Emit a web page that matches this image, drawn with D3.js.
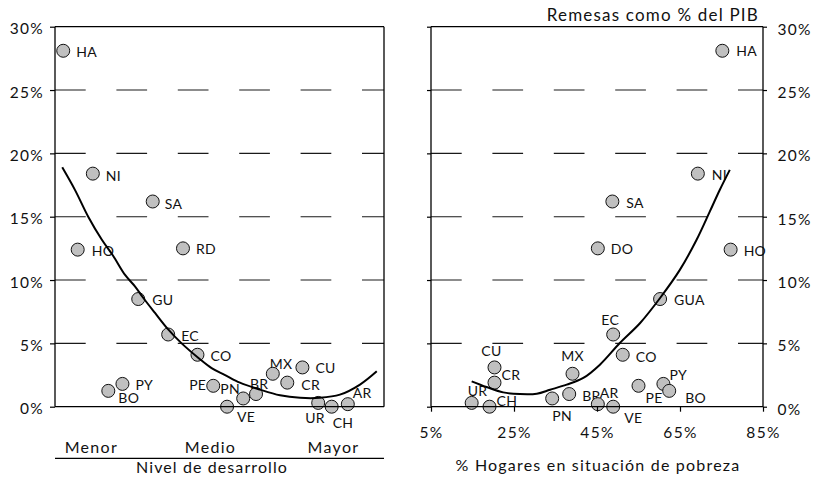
<!DOCTYPE html>
<html>
<head>
<meta charset="utf-8">
<script src="https://cdn.jsdelivr.net/npm/d3@7"></script>
<style>
  html, body { margin: 0; padding: 0; background: #fff; }
  svg { display: block; }
  text { font-family: Lato, "Open Sans", sans-serif; fill: #111; }
</style>
</head>
<body>
<svg id="chart" width="816" height="482"></svg>
<script>
// Remittances (% of GDP) by country, compared against development level and household poverty
const labelsLeft  = ["HA","NI","SA","HO","RD","GU","EC","CO","PY","BO","PE","VE","PN","BR","MX","CR","CU","UR","CH","AR"];
const labelsRight = ["HA","NI","SA","HO","DO","GUA","EC","CO","PY","BO","PE","VE","PN","BR","MX","CR","CU","UR","CH","AR"];
const remittances = [28.1, 18.4, 16.2, 12.4, 12.5, 8.5, 5.7, 4.1, 1.8, 1.25, 1.65, 0.0, 0.65, 1.0, 2.6, 1.9, 3.1, 0.3, 0.0, 0.2];
const development = [2.5, 11.5, 29.7, 6.9, 38.9, 25.3, 34.4, 43.3, 20.5, 16.2, 48.1, 52.3, 57.2, 61.1, 66.2, 70.6, 75.2, 80.0, 84.1, 89.0];
const poverty     = [75.2, 69.3, 48.7, 77.2, 45.2, 60.2, 48.9, 51.2, 61.0, 62.4, 55.0, 48.9, 34.2, 38.3, 39.1, 20.3, 20.3, 14.8, 19.1, 45.2];

// Trend curves
const trendLeftX  = [2.2, 6.1, 10.1, 14.2, 17.7, 21.3, 24.3, 26.8, 30.4, 34.4, 38.5, 43.6, 47.6, 51.7, 56.2, 62.3, 68.4, 74.5, 80.5, 86.6, 92.7, 97.8];
const trendLeftY  = [18.9, 17.1, 15.0, 13.2, 11.9, 10.4, 9.5, 8.6, 7.4, 6.1, 5.0, 3.85, 3.05, 2.5, 1.9, 1.35, 0.9, 0.7, 0.7, 0.95, 1.75, 2.8];
const trendRightX = [14.8, 18.4, 22.4, 26.4, 30.5, 33.7, 37.7, 41.7, 45.7, 50.5, 55.4, 60.2, 65.0, 69.0, 72.2, 74.6, 77.0];
const trendRightY = [2.0, 1.55, 1.13, 1.0, 1.03, 1.34, 1.74, 2.27, 3.32, 5.03, 6.61, 8.58, 10.82, 13.18, 15.42, 17.13, 18.7];

const remitTicks = [0, 5, 10, 15, 20, 25, 30];
const povertyTicks = [5, 25, 45, 65, 85];
const levelNames = ["Menor", "Medio", "Mayor"];
const levelPositions = [10.9, 47.1, 84.5];

const titleRight = "Remesas como % del PIB";
const xTitleLeft = "Nivel de desarrollo";
const xTitleRight = "% Hogares en situación de pobreza";

// Label placement around each marker: [dx, dy, anchor]
const labelPosLeft = {
  HA:[13,6], NI:[13,7], SA:[12,7], HO:[14,6], RD:[13,5.5], GU:[14,6], EC:[13,6], CO:[13,6],
  PY:[13,6], BO:[10,12], PE:[-7,4,"end"], VE:[10,15], PN:[-23,-4], BR:[-6,-5], MX:[-3,-5],
  CR:[14,7], CU:[13,6], UR:[-13,20], CH:[1,21], AR:[5,-6]
};
const labelPosRight = {
  HA:[14,5], NI:[14,6], SA:[14,6], HO:[13,6], DO:[13,6], GUA:[14,6], EC:[-3,-10,"middle"],
  CO:[13,7], CU:[-3,-11,"middle"], CR:[7,-3], MX:[0,-12.6,"middle"], UR:[-4,-7], CH:[7,-1],
  PN:[0,23], BR:[13,7], AR:[2,-6], VE:[11,16], PE:[7,17], PY:[6,-4], BO:[16,12]
};

const svg = d3.select("#chart");
svg.append("rect").attr("width", 816).attr("height", 482).attr("fill", "#fff");

const plotTop = 26.7, plotBottom = 406.7;
const y = d3.scaleLinear().domain([0, 30]).range([plotBottom, plotTop]);

const xL = d3.scaleLinear().domain([0, 100]).range([55, 384]);
const xR = d3.scaleLinear().domain([5, 85]).range([431, 763]);

function panel(x, xs, labels, pos, trendX, trendY) {
  const g = svg.append("g");
  const [x0, x1] = x.range();

  // dashed gridlines
  g.selectAll("line.grid").data(remitTicks.filter(t => t > 0 && t < 30)).join("line")
    .attr("class", "grid")
    .attr("x1", x0).attr("x2", x1)
    .attr("y1", d => y(d)).attr("y2", d => y(d))
    .attr("stroke", "#1a1a1a").attr("stroke-width", 1.1)
    .attr("stroke-dasharray", "30.7,30.7");

  // country labels
  g.selectAll("text.lab").data(labels).join("text")
    .attr("class", "lab")
    .attr("x", (d, i) => x(xs[i]) + pos[d][0])
    .attr("y", (d, i) => y(remittances[i]) + pos[d][1])
    .attr("text-anchor", d => pos[d][2] || "start")
    .style("font-size", "14px")
    .style("letter-spacing", "0.3px")
    .text(d => d);

  // markers
  g.selectAll("circle").data(labels).join("circle")
    .attr("cx", (d, i) => x(xs[i]))
    .attr("cy", (d, i) => y(remittances[i]))
    .attr("r", 6.5)
    .attr("fill", "#c0c0c0").attr("stroke", "#111").attr("stroke-width", 1);

  // trend curve
  const line = d3.line().x(d => x(d[0])).y(d => y(d[1])).curve(d3.curveCatmullRom);
  g.append("path").datum(trendX.map((v, i) => [v, trendY[i]]))
    .attr("d", line).attr("fill", "none").attr("stroke", "#000").attr("stroke-width", 2);

  // frame
  const frame = [[x0, plotTop, x1, plotTop], [x0, plotBottom, x1, plotBottom],
                 [x0, plotTop, x0, plotBottom], [x1, plotTop, x1, plotBottom]];
  g.selectAll("line.frame").data(frame).join("line")
    .attr("class", "frame")
    .attr("x1", d => d[0]).attr("y1", d => d[1]).attr("x2", d => d[2]).attr("y2", d => d[3])
    .attr("stroke", "#000").attr("stroke-width", 1.3);
  return g;
}

panel(xL, development, labelsLeft, labelPosLeft, trendLeftX, trendLeftY);
panel(xR, poverty, labelsRight, labelPosRight, trendRightX, trendRightY);

function styleAxis(sel) {
  sel.select(".domain").remove();
  sel.selectAll(".tick line").attr("stroke", "#000").attr("stroke-width", 1.2);
  sel.selectAll("text").style("font-size", "15.5px").style("letter-spacing", "1.3px").attr("fill", "#111");
}

// Left panel y axis
const axL = svg.append("g").attr("transform", "translate(55,0)")
  .call(d3.axisLeft(y).tickValues(remitTicks).tickSize(5).tickPadding(8).tickFormat(d => d + "%"));
styleAxis(axL);
axL.selectAll("text").attr("dy", null).attr("y", 7).attr("x", -11);

// Right panel: short ticks on the left edge, labelled ticks on the right edge
const axR0 = svg.append("g").attr("transform", "translate(431,0)")
  .call(d3.axisLeft(y).tickValues(remitTicks).tickSize(4).tickFormat(""));
styleAxis(axR0);
const axR = svg.append("g").attr("transform", "translate(763,0)")
  .call(d3.axisRight(y).tickValues(remitTicks).tickSize(4).tickFormat(d => d + "%"));
styleAxis(axR);
axR.selectAll("text").attr("dy", null).attr("y", 7.5).attr("x", 14.5);

const axB = svg.append("g").attr("transform", `translate(0,${plotBottom})`)
  .call(d3.axisBottom(xR).tickValues(povertyTicks).tickSize(5).tickFormat(d => d + "%"));
styleAxis(axB);
axB.selectAll("text").attr("dy", null).attr("y", 31.5);

// Left panel category axis
const axC = svg.append("g").attr("transform", "translate(0,453.3)")
  .call(d3.axisBottom(xL).tickValues(levelPositions).tickSize(0).tickPadding(0)
    .tickFormat((d, i) => levelNames[i]));
axC.select(".domain").remove();
axC.selectAll("text").attr("dy", null).attr("y", 0)
  .style("font-size", "16px").style("letter-spacing", "1.3px").attr("fill", "#111");

svg.append("line").attr("x1", 55).attr("x2", 384).attr("y1", 458.3).attr("y2", 458.3)
  .attr("stroke", "#000").attr("stroke-width", 1.2);

svg.append("text").attr("x", 212).attr("y", 473.3).attr("text-anchor", "middle")
  .style("font-size", "16px").style("letter-spacing", "1.1px").text(xTitleLeft);
svg.append("text").attr("x", 598).attr("y", 471).attr("text-anchor", "middle")
  .style("font-size", "16px").style("letter-spacing", "1.2px").text(xTitleRight);
svg.append("text").attr("x", 759).attr("y", 20.5).attr("text-anchor", "end")
  .style("font-size", "17px").style("letter-spacing", "1.2px").text(titleRight);
</script>
</body>
</html>
